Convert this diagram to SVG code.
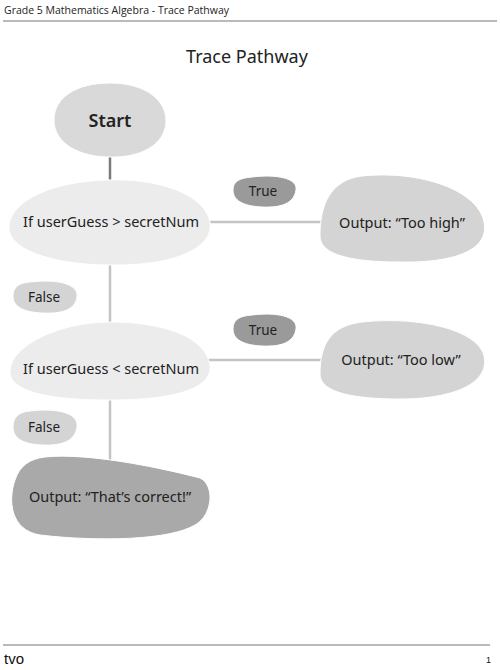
<svg xmlns="http://www.w3.org/2000/svg" width="500" height="670" viewBox="0 0 500 670">
<style>
.hdr{font-family:"Open Sans","Liberation Sans",sans-serif;font-size:10.5px;fill:#222}
.t{font-family:"Noto Sans","Liberation Sans",sans-serif;fill:#222;text-anchor:middle}
.lbl{font-size:13.5px}
.node{font-size:14.5px}
.edge{stroke:#c4c4c4;stroke-width:2.5;fill:none}
.b{stroke:#fff;stroke-width:1}
</style>
<rect width="500" height="670" fill="#fff"/>
<text class="hdr" x="4" y="14">Grade 5 Mathematics Algebra - Trace Pathway</text>
<line x1="3" y1="21" x2="497" y2="21" stroke="#777" stroke-width="1.2"/>
<text class="t" x="247" y="63" font-size="18">Trace Pathway</text>
<g id="connectors">
<line class="edge" x1="110" y1="155" x2="110" y2="182" stroke="#777" style="stroke:#7a7a7a"/>
<line class="edge" x1="110" y1="264" x2="110" y2="324"/>
<line class="edge" x1="110" y1="399" x2="110" y2="462"/>
<line class="edge" x1="208" y1="222" x2="322" y2="222"/>
<line class="edge" x1="208" y1="360" x2="322" y2="360"/>
</g>
<g id="start">
<path class="b" fill="#d9d9d9" d="M110,83 C145,83 167,100 166,122 C165,145 140,158 110,157 C80,157 54,144 54,120 C54,97 77,83 110,83 Z"/>
<text class="t" x="110" y="127" font-size="18" font-weight="600">Start</text>
</g>
<g id="cond1">
<path class="b" fill="#ececec" d="M108,180 C160,178 205,195 210,222 C214,250 170,266 110,265 C55,265 9,250 9,228 C9,200 55,181 108,180 Z"/>
<text class="t node" x="111" y="227">If userGuess &gt; secretNum</text>
</g>
<g id="true1">
<path class="b" fill="#9a9a9a" d="M252,177 C276,174 298,178 296,190 C294,203 282,208 262,207 C242,206 233,200 233,190 C233,181 240,178 252,177 Z"/>
<text class="t lbl" x="263" y="196">True</text>
</g>
<g id="outHigh">
<path class="b" fill="#d4d4d4" d="M362,176 C420,170 478,190 484,222 C490,252 450,263 400,262 C355,262 320,256 320,236 C320,205 330,180 362,176 Z"/>
<text class="t node" x="402" y="228">Output: “Too high”</text>
</g>
<g id="false1">
<path class="b" fill="#d4d4d4" d="M30,282 C55,279 79,283 77,297 C75,310 62,314 42,313 C22,312 13,306 13,296 C13,287 19,283 30,282 Z"/>
<text class="t lbl" x="44" y="302">False</text>
</g>
<g id="cond2">
<path class="b" fill="#ececec" d="M110,322 C160,322 205,335 210,365 C213,390 170,400 110,400 C50,400 8,392 10,370 C12,345 60,322 110,322 Z"/>
<text class="t node" x="111" y="374">If userGuess &lt; secretNum</text>
</g>
<g id="true2">
<path class="b" fill="#9a9a9a" d="M252,315 C276,312 298,316 296,329 C294,342 282,347 262,346 C242,345 233,339 233,329 C233,319 240,316 252,315 Z"/>
<text class="t lbl" x="263" y="335">True</text>
</g>
<g id="outLow">
<path class="b" fill="#d4d4d4" d="M362,322 C420,316 478,330 484,356 C490,385 450,399 400,399 C355,399 320,393 320,374 C320,345 330,326 362,322 Z"/>
<text class="t node" x="401" y="365">Output: “Too low”</text>
</g>
<g id="false2">
<path class="b" fill="#d4d4d4" d="M30,411 C55,408 79,412 77,427 C75,441 62,446 42,445 C22,444 13,438 13,427 C13,417 19,412 30,411 Z"/>
<text class="t lbl" x="44" y="432">False</text>
</g>
<g id="outCorrect">
<path class="b" fill="#a9a9a9" d="M45,457 C90,452 170,470 200,478 C215,485 213,515 195,525 C170,540 100,542 40,535 C10,530 8,500 15,480 C20,465 30,459 45,457 Z"/>
<text class="t node" x="110" y="502">Output: “That’s correct!”</text>
</g>
<line x1="3" y1="645" x2="490" y2="645" stroke="#777" stroke-width="1.2"/>
<text x="4" y="664" font-family="'Liberation Sans',sans-serif" font-size="15" fill="#111">tvo</text>
<text x="486" y="663" font-family="'Liberation Sans',sans-serif" font-size="9" fill="#111">1</text>
</svg>
